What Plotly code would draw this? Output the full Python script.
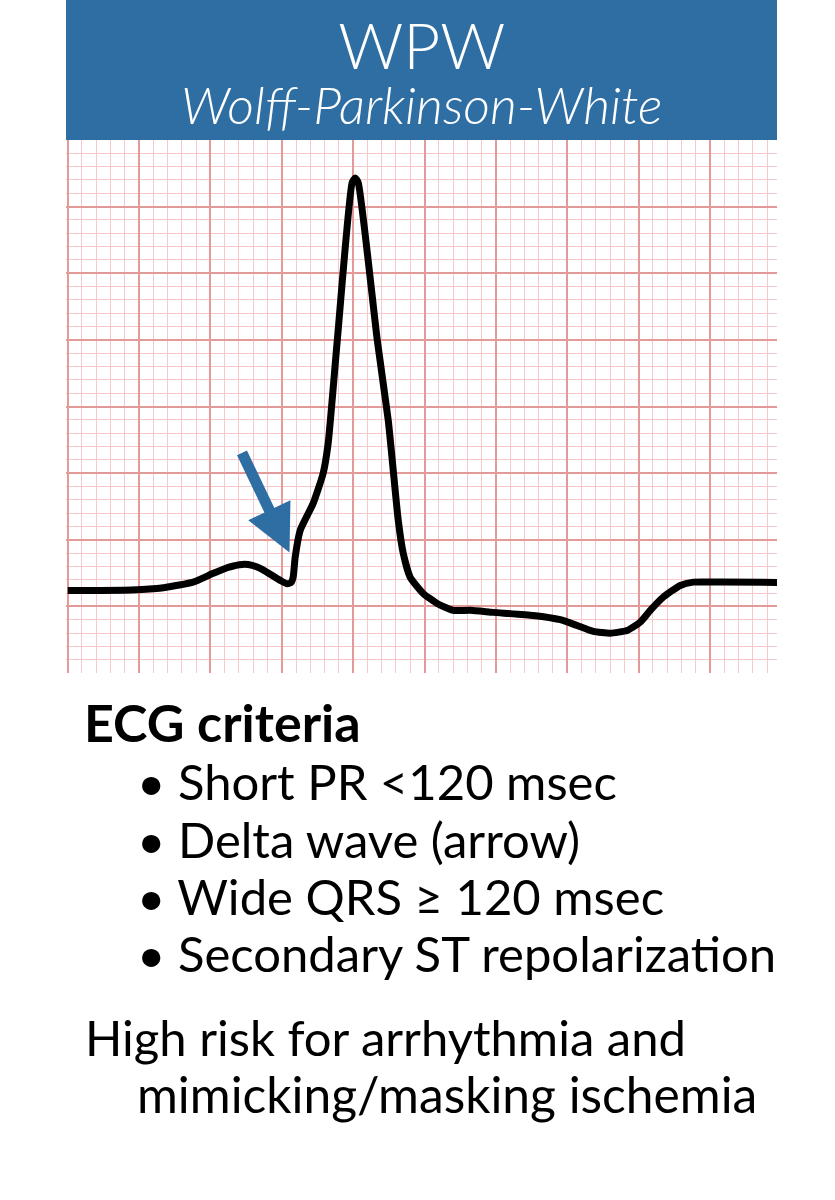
import plotly.graph_objects as go

# ECG trace, in small-box units (1 box = 40 ms wide, 0.1 mV high), y from grid bottom
ecg_x = [0, 2.28, 4.87, 6.83, 8.79, 10.20, 11.25, 12.23, 12.93, 13.63, 14.89, 15.38, 15.66,
         15.80, 15.94, 16.29, 17.20, 17.90, 18.25, 18.89, 19.93, 20.15, 20.36, 21.69, 22.46,
         22.81, 23.16, 23.51, 24.0, 24.91, 25.89, 27.01, 28.21, 29.81, 32.62, 34.51, 35.68,
         36.83, 38.02, 39.19, 40.12, 40.82, 41.73, 42.92, 43.83, 45.72, 49.72]
ecg_y = [6.20, 6.20, 6.25, 6.42, 6.82, 7.48, 7.93, 8.15, 8.08, 7.78, 6.95, 6.69, 6.80,
         7.20, 8.70, 10.71, 12.73, 14.99, 17.24, 24.98, 36.8, 37.15, 36.78, 24.98, 18.97,
         15.21, 11.46, 8.98, 7.17, 5.97, 5.22, 4.70, 4.70, 4.55, 4.32, 4.0, 3.57,
         3.12, 2.99, 3.19, 3.82, 4.70, 5.69, 6.57, 6.82, 6.82, 6.80]

# delta wave arrow: tip and tail
arrow_tip = (15.54, 9.05)
arrow_tail = (12.16, 16.64)

title = "WPW"
subtitle = "Wolff-Parkinson-White"
criteria_head = "ECG criteria"
criteria = ["Short PR <120 msec", "Delta wave (arrow)", "Wide QRS \u2265 120 msec",
            "Secondary ST repolarization"]
note_lines = ["High risk for arrhythmia and", "mimicking/masking ischemia"]

blue = "#2f6ea3"
font_name = "Lato"
body_size = 49

fig = go.Figure()
fig.add_trace(go.Scatter(x=ecg_x, y=ecg_y, mode="lines",
                         line=dict(color="black", width=7, shape="spline", smoothing=0.5),
                         hoverinfo="skip", showlegend=False))

fig.add_annotation(x=arrow_tip[0], y=arrow_tip[1], ax=arrow_tail[0], ay=arrow_tail[1],
                   xref="x", yref="y", axref="x", ayref="y", text="",
                   showarrow=True, arrowhead=2, arrowsize=0.85, arrowwidth=11,
                   arrowcolor=blue, standoff=0)

# header band above the grid
plot_h = 533.0
plot_w = 711.0
fig.add_shape(type="rect", xref="paper", yref="paper", x0=0, x1=1, y0=1, y1=1 + 140 / plot_h,
              fillcolor=blue, line=dict(width=0), layer="above")

def py(pix):
    # pixel row on the page -> paper y
    return (673 - pix) / plot_h

def px(pix):
    return (pix - 66) / plot_w

# title + subtitle as one two-line text; line spacing follows the base size (42 -> ~55px)
header_text = ("<span style='font-size:64px'>" + title + "</span><br>"
               "<span style='font-size:52px'><i>" + subtitle + "</i></span>")
fig.add_annotation(text=header_text, xref="paper", yref="paper", x=0.5, y=py(71),
                   showarrow=False, xanchor="center", yanchor="middle", align="center",
                   font=dict(family=font_name, size=42, color="white", weight=300))

fig.add_annotation(text="<b>" + criteria_head + "</b>", xref="paper", yref="paper",
                   x=px(82), y=py(722), showarrow=False, xanchor="left", yanchor="middle",
                   font=dict(family=font_name, size=52, color="black"))
for i, item in enumerate(criteria):
    fig.add_annotation(text="\u2022 " + item, xref="paper", yref="paper",
                       x=px(135), y=py(781 + i * 57.5), showarrow=False,
                       xanchor="left", yanchor="middle",
                       font=dict(family=font_name, size=body_size, color="black"))
fig.add_annotation(text=note_lines[0], xref="paper", yref="paper", x=px(83), y=py(1037),
                   showarrow=False, xanchor="left", yanchor="middle",
                   font=dict(family=font_name, size=body_size, color="black"))
fig.add_annotation(text=note_lines[1], xref="paper", yref="paper", x=px(135), y=py(1094),
                   showarrow=False, xanchor="left", yanchor="middle",
                   font=dict(family=font_name, size=body_size + 0.7, color="black"))

minor_col = "#f6c8cb"
major_col = "#e59a9a"
fig.update_xaxes(range=[-0.12, 49.7], dtick=5, tick0=0, showgrid=True, gridcolor=major_col,
                 gridwidth=1.5, showticklabels=False, zeroline=False, ticks="",
                 minor=dict(dtick=1, tick0=0, showgrid=True, gridcolor=minor_col, gridwidth=1))
fig.update_yaxes(range=[0, 40], dtick=5, tick0=0, showgrid=True, gridcolor=major_col,
                 gridwidth=1.5, showticklabels=False, zeroline=False, ticks="",
                 minor=dict(dtick=1, tick0=0, showgrid=True, gridcolor=minor_col, gridwidth=1))

fig.update_layout(width=835, height=1200, margin=dict(l=66, r=58, t=140, b=527),
                  paper_bgcolor="white", plot_bgcolor="white", showlegend=False)

# drop the page's default body margin so the figure sits at the window's corner
fig.write_html("out.html", config={"displayModeBar": False},
               post_script="document.body.style.margin = '0';")
